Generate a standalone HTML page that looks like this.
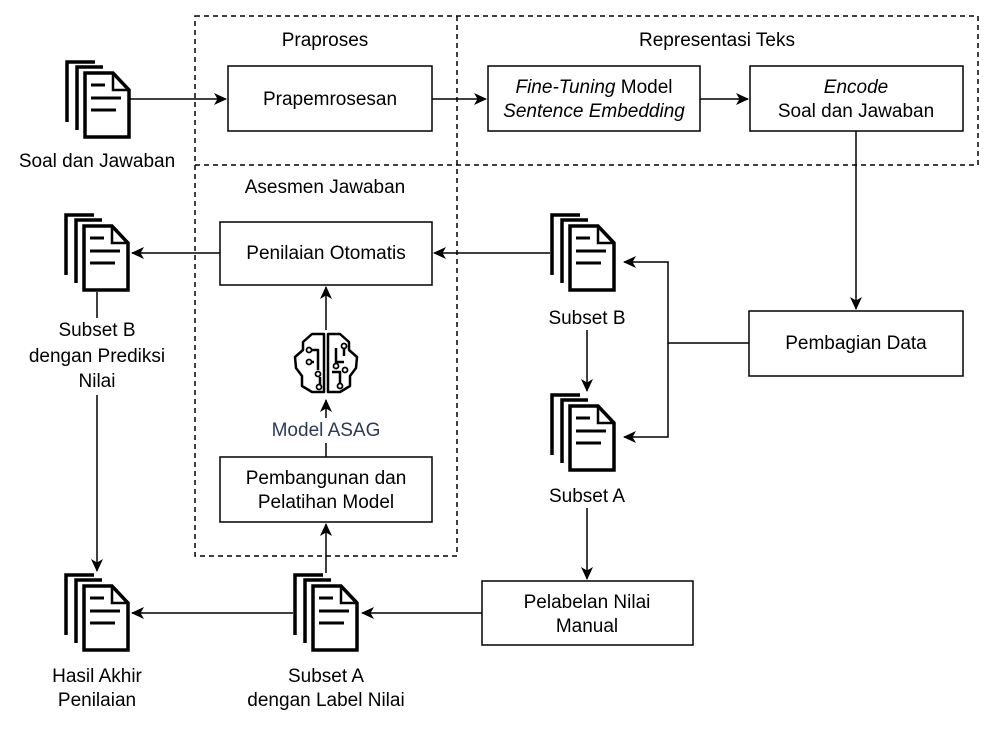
<!DOCTYPE html>
<html><head><meta charset="utf-8"><style>
html,body{margin:0;padding:0;background:#fff}
svg text{font-family:"Liberation Sans",Arial,sans-serif;font-size:19px;fill:#000}
</style></head><body>
<svg width="996" height="730" viewBox="0 0 996 730" xmlns="http://www.w3.org/2000/svg">
<defs>
<marker id="a" markerWidth="14" markerHeight="14" refX="12" refY="7" orient="auto" markerUnits="userSpaceOnUse">
<path d="M0,1 L13,7 L0,13 L3.5,7 Z" fill="#000"/></marker>
<g id="doc" fill="none" stroke="#000" stroke-width="3.5">
<path d="M2,62 V2 H30"/>
<path d="M12,70 V7 H38"/>
<path d="M20,77 V13 H48 L64,30 V77 Z" fill="#fff"/>
<path d="M48,13 V30 H64" stroke-width="2.5"/>
<path d="M26,25 H40 M26,38 H56 M26,50 H51" stroke-width="3"/>
</g>
</defs>
<g fill="none" stroke="#000" stroke-width="1.5" stroke-dasharray="5,4">
<rect x="195" y="16" width="783" height="149"/>
<path d="M195,165 V556 H457 M457,16 V556"/>
</g>
<g fill="#fff" stroke="#000" stroke-width="1.5">
<rect x="228" y="66" width="204" height="65"/>
<rect x="488" y="66" width="212" height="65"/>
<rect x="750" y="66" width="213" height="65"/>
<rect x="220" y="222" width="212" height="63"/>
<rect x="749" y="311" width="214" height="65"/>
<rect x="220" y="457" width="212" height="65"/>
<rect x="482" y="581" width="211" height="64"/>
</g>
<g stroke="#000" stroke-width="1.5" fill="none">
<path d="M130,99 H226" marker-end="url(#a)"/>
<path d="M432,99 H486" marker-end="url(#a)"/>
<path d="M700,99 H748" marker-end="url(#a)"/>
<path d="M856,131 V309" marker-end="url(#a)"/>
<path d="M749,343 H668 V262 H624" marker-end="url(#a)"/>
<path d="M668,343 V437 H624" marker-end="url(#a)"/>
<path d="M550,253 H434" marker-end="url(#a)"/>
<path d="M220,253 H132" marker-end="url(#a)"/>
<path d="M587,330 V391" marker-end="url(#a)"/>
<path d="M587,508 V579" marker-end="url(#a)"/>
<path d="M482,613 H362" marker-end="url(#a)"/>
<path d="M293,613 H132" marker-end="url(#a)"/>
<path d="M326,573 V524" marker-end="url(#a)"/>
<path d="M326,457 V443"/>
<path d="M326,418 V400" marker-end="url(#a)"/>
<path d="M326,330 V287" marker-end="url(#a)"/>
<path d="M97,292 V318"/>
<path d="M97,395 V571" marker-end="url(#a)"/>
</g>
<use href="#doc" x="65" y="60"/>
<use href="#doc" x="64" y="213"/>
<use href="#doc" x="64" y="573"/>
<use href="#doc" x="550" y="213"/>
<use href="#doc" x="550" y="393"/>
<use href="#doc" x="293" y="573"/>
<g fill="none" stroke="#000" stroke-width="2.5" stroke-linejoin="round">
<path d="M324,334 L312,334 L303,342 L303,350 L295,357 L296,368 L302,376 L302,386 L312,392 L324,392 Z" fill="#fff"/>
<path d="M328,334 L340,334 L349,342 L349,350 L357,357 L356,368 L350,376 L350,386 L340,392 L328,392 Z" fill="#fff"/>
<path d="M310,350 H318 V370 M310,362 H314 M320,377 V386 M336,348 V362 H344 M332,372 H340 V384 M344,356 V348"/>
</g>
<g fill="#fff" stroke="#000" stroke-width="1.8">
<circle cx="309" cy="350" r="2.5"/><circle cx="309" cy="362" r="2.5"/><circle cx="318" cy="374" r="2.5"/><circle cx="319" cy="387" r="2.5"/>
<circle cx="344" cy="346" r="2.5"/><circle cx="336" cy="366" r="2.5"/><circle cx="345" cy="370" r="2.5"/><circle cx="340" cy="386" r="2.5"/>
</g>
<g text-anchor="middle">
<text x="325" y="46">Praproses</text>
<text x="717" y="46">Representasi Teks</text>
<text x="325" y="193">Asesmen Jawaban</text>
<text x="330" y="105">Prapemrosesan</text>
<text x="594" y="93"><tspan font-style="italic">Fine-Tuning</tspan> Model</text>
<text x="594" y="117" font-style="italic">Sentence Embedding</text>
<text x="856" y="93" font-style="italic">Encode</text>
<text x="856" y="117">Soal dan Jawaban</text>
<text x="326" y="259">Penilaian Otomatis</text>
<text x="856" y="349">Pembagian Data</text>
<text x="326" y="484">Pembangunan dan</text>
<text x="326" y="508">Pelatihan Model</text>
<text x="587" y="608">Pelabelan Nilai</text>
<text x="587" y="632">Manual</text>
<text x="326" y="436" style="fill:#2b3a55">Model ASAG</text>
<text x="97" y="167">Soal dan Jawaban</text>
<text x="97" y="336">Subset B</text>
<text x="97" y="362">dengan Prediksi</text>
<text x="97" y="387">Nilai</text>
<text x="587" y="324">Subset B</text>
<text x="587" y="502">Subset A</text>
<text x="97" y="682">Hasil Akhir</text>
<text x="97" y="706">Penilaian</text>
<text x="326" y="682">Subset A</text>
<text x="326" y="706">dengan Label Nilai</text>
</g>
</svg>
</body></html>
